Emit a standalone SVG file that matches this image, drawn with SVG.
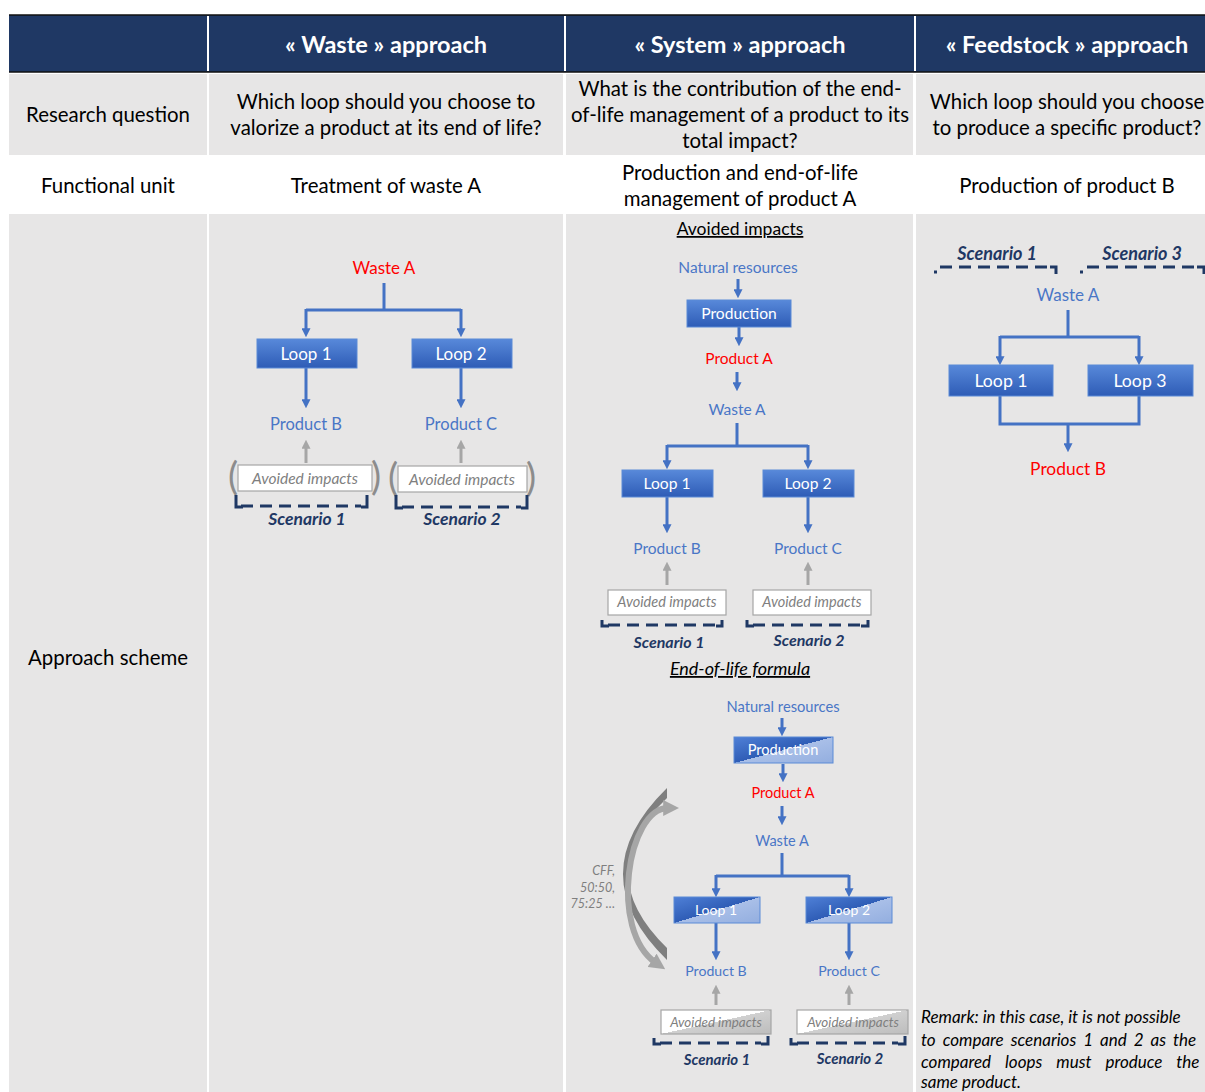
<svg xmlns="http://www.w3.org/2000/svg" width="1205" height="1092" viewBox="0 0 1205 1092">
<style>
text{font-family:Lato,"Liberation Sans",sans-serif}
.hd{fill:#fff;font-weight:bold;font-size:23.5px;text-anchor:middle}
.cell{fill:#000;font-size:20.4px;text-anchor:middle}
.blue{fill:#4A76C6;font-size:16.5px;text-anchor:middle}
.red{fill:#FF0000;font-size:17px;text-anchor:middle}
.boxt{fill:#fff;font-size:17px;text-anchor:middle}
.av{fill:#7F7F7F;font-style:italic;font-size:15.5px;text-anchor:middle}
.av2{fill:#7F7F7F;font-style:italic;font-size:14.5px;text-anchor:middle}
.sc{fill:#1F3864;font-style:italic;font-weight:bold;font-size:17.5px;text-anchor:middle}
.ttl{fill:#000;font-size:17.5px;text-anchor:middle;text-decoration:underline}
.par{fill:#8C8C8C;font-size:38px;text-anchor:middle}
.rem{fill:#000;font-style:italic;font-size:17px}
.cff{fill:#7F7F7F;font-style:italic;font-size:12.5px;text-anchor:end}
.con{stroke:#4472C4;stroke-width:3;fill:none}
.conA{stroke:#4472C4;stroke-width:3;fill:none;marker-end:url(#ab)}
.gA{stroke:#A6A6A6;stroke-width:3;fill:none;marker-end:url(#ag)}
.dash{stroke:#1F3864;stroke-width:3;fill:none;stroke-dasharray:12 7}
.tick{stroke:#1F3864;stroke-width:3;fill:none}
.bb{fill:url(#gb);stroke:#5B8AD6;stroke-width:1}
.bs{fill:url(#gs);stroke:#5B8AD6;stroke-width:1}
.wb{fill:#fff;stroke:#A6A6A6;stroke-width:1.2}
.ws{fill:url(#gw);stroke:#A6A6A6;stroke-width:1.2}
</style>
<defs>
<linearGradient id="gb" x1="0" y1="0" x2="0" y2="1"><stop offset="0" stop-color="#5889DA"/><stop offset="1" stop-color="#2E5CB6"/></linearGradient>
<linearGradient id="gs" x1="0" y1="0" x2="1" y2="1"><stop offset="0" stop-color="#4F80D7"/><stop offset="0.5" stop-color="#2F5DB6"/><stop offset="0.5" stop-color="#A9BFE8"/><stop offset="1" stop-color="#93AEDF"/></linearGradient>
<linearGradient id="gw" x1="0" y1="0" x2="1" y2="1"><stop offset="0" stop-color="#FFFFFF"/><stop offset="0.5" stop-color="#FFFFFF"/><stop offset="0.5" stop-color="#D0D0D0"/><stop offset="1" stop-color="#BDBDBD"/></linearGradient>
<marker id="ab" viewBox="0 0 10 10" refX="3" refY="5" markerWidth="9" markerHeight="9" markerUnits="userSpaceOnUse" orient="auto"><path d="M0,0 L10,5 L0,10 Z" fill="#4472C4"/></marker>
<marker id="ag" viewBox="0 0 10 10" refX="3" refY="5" markerWidth="9" markerHeight="9" markerUnits="userSpaceOnUse" orient="auto"><path d="M0,0 L10,5 L0,10 Z" fill="#A6A6A6"/></marker>
<marker id="ac" viewBox="0 0 10 10" refX="3" refY="5" markerWidth="16" markerHeight="16" markerUnits="userSpaceOnUse" orient="auto-start-reverse"><path d="M0,0 L10,5 L0,10 Z" fill="#A6A6A6"/></marker>
</defs>

<rect width="1205" height="1092" fill="#fff"/>

<g id="table">
<rect x="9" y="15" width="1196" height="57" fill="#1F3864"/>
<line x1="9" y1="15" x2="1205" y2="15" stroke="#111" stroke-width="1.5"/>
<line x1="9" y1="72" x2="1205" y2="72" stroke="#111" stroke-width="1.5"/>
<rect x="9" y="74" width="198" height="81" fill="#E7E6E6"/>
<rect x="209" y="74" width="354" height="81" fill="#E7E6E6"/>
<rect x="566" y="74" width="347" height="81" fill="#E7E6E6"/>
<rect x="916" y="74" width="289" height="81" fill="#E7E6E6"/>
<rect x="9" y="214" width="198" height="878" fill="#E7E6E6"/>
<rect x="209" y="214" width="354" height="878" fill="#E7E6E6"/>
<rect x="566" y="214" width="347" height="878" fill="#E7E6E6"/>
<rect x="916" y="214" width="289" height="878" fill="#E7E6E6"/>
<line x1="208" y1="16" x2="208" y2="71" stroke="#fff" stroke-width="2"/>
<line x1="565" y1="16" x2="565" y2="71" stroke="#fff" stroke-width="2"/>
<line x1="915" y1="16" x2="915" y2="71" stroke="#fff" stroke-width="2"/>
<text class="hd" x="386" y="53">« Waste » approach</text>
<text class="hd" x="740" y="53">« System » approach</text>
<text class="hd" x="1067" y="53">« Feedstock »  approach</text>
<text class="cell" x="108" y="122">Research question</text>
<text class="cell" x="386" y="109">Which loop should you choose to</text>
<text class="cell" x="386" y="135">valorize a product at its end of life?</text>
<text class="cell" x="740" y="96">What is the contribution of the end-</text>
<text class="cell" x="740" y="122">of-life management of a product to its</text>
<text class="cell" x="740" y="148">total impact?</text>
<text class="cell" x="1067" y="109">Which loop should you choose</text>
<text class="cell" x="1067" y="135">to produce a specific product?</text>
<text class="cell" x="108" y="193">Functional unit</text>
<text class="cell" x="386" y="193">Treatment of waste A</text>
<text class="cell" x="740" y="180">Production and end-of-life</text>
<text class="cell" x="740" y="206">management of product A</text>
<text class="cell" x="1067" y="193">Production of product B</text>
<text class="cell" x="108" y="665">Approach scheme</text>
</g>

<g id="connectors">
<path class="con" d="M384 283 V310 M306 310 H461"/>
<path class="conA" d="M306 309 V331"/>
<path class="conA" d="M461 309 V331"/>
<path class="conA" d="M306 368 V402"/>
<path class="conA" d="M461 368 V402"/>
<path class="gA" d="M306 463 V446"/>
<path class="gA" d="M461 463 V446"/>
<path class="conA" d="M738 279 V292"/>
<path class="conA" d="M739 327 V340"/>
<path class="conA" d="M737 372 V385"/>
<path class="con" d="M737 423 V446 M667 446 H808"/>
<path class="conA" d="M667 445 V463"/>
<path class="conA" d="M808 445 V463"/>
<path class="conA" d="M667 497 V527"/>
<path class="conA" d="M808 497 V527"/>
<path class="gA" d="M667 585 V568"/>
<path class="gA" d="M808 585 V568"/>
<path class="conA" d="M782 718 V730"/>
<path class="conA" d="M783 764 V776"/>
<path class="conA" d="M782 806 V819"/>
<path class="con" d="M782 853 V876 M716 876 H849"/>
<path class="conA" d="M716 875 V891"/>
<path class="conA" d="M849 875 V891"/>
<path class="conA" d="M716 923 V954"/>
<path class="conA" d="M849 923 V954"/>
<path class="gA" d="M716 1005 V991"/>
<path class="gA" d="M849 1005 V991"/>
<path d="M667 788 Q579 874 667 960 L667 948 Q589 872 667 798 Z" fill="#7F7F7F"/>
<path d="M668 808 C 628 808, 608 930, 656 963" stroke="#A6A6A6" stroke-width="6" fill="none" marker-start="url(#ac)" marker-end="url(#ac)"/>
<path class="con" d="M1068 310 V337 M1000 337 H1139"/>
<path class="conA" d="M1000 336 V359"/>
<path class="conA" d="M1139 336 V359"/>
<path class="con" d="M1000 396 V424 H1139 V396"/>
<path class="conA" d="M1068 423 V446"/>
</g>

<g id="waste-scheme">
<text class="red" x="384" y="274">Waste A</text>
<g id="w-loop1"><rect class="bb" x="257" y="339" width="100" height="29"/><text class="boxt" x="306" y="360">Loop 1</text></g>
<g id="w-loop2"><rect class="bb" x="412" y="339" width="100" height="29"/><text class="boxt" x="461" y="360">Loop 2</text></g>
<text class="blue" x="306" y="430">Product B</text>
<text class="blue" x="461" y="430">Product C</text>
<g id="w-av1"><text class="par" x="233" y="490">(</text><text class="par" x="376" y="490">)</text><rect class="wb" x="238" y="465" width="134" height="26"/><text class="av" x="305" y="484">Avoided impacts</text></g>
<g id="w-av2"><text class="par" x="393" y="491">(</text><text class="par" x="531" y="491">)</text><rect class="wb" x="398" y="466" width="129" height="26"/><text class="av" x="462" y="485">Avoided impacts</text></g>
<g id="w-sc1"><path class="dash" d="M241 506 H361"/><path class="tick" d="M236 495 V507 H243 M361 507 H367 V495"/><text class="sc" x="307" y="525">Scenario 1</text></g>
<g id="w-sc2"><path class="dash" d="M402 507 H521"/><path class="tick" d="M396 495 V508 H403 M521 508 H527 V495"/><text class="sc" x="462" y="525">Scenario 2</text></g>
</g>

<g id="system-scheme">
<text class="ttl" x="740" y="235">Avoided impacts</text>
<text class="blue" x="738" y="273" style="font-size:15.5px">Natural resources</text>
<g id="s-prod"><rect class="bb" x="687" y="300" width="104" height="27"/><text class="boxt" x="739" y="319" style="font-size:15.6px">Production</text></g>
<text class="red" x="739" y="364" style="font-size:15.5px">Product A</text>
<text class="blue" x="737" y="415" style="font-size:15.5px">Waste A</text>
<g id="s-loop1"><rect class="bb" x="622" y="470" width="91" height="27"/><text class="boxt" x="667" y="489" style="font-size:15.6px">Loop 1</text></g>
<g id="s-loop2"><rect class="bb" x="763" y="470" width="91" height="27"/><text class="boxt" x="808" y="489" style="font-size:15.6px">Loop 2</text></g>
<text class="blue" x="667" y="554" style="font-size:15.5px">Product B</text>
<text class="blue" x="808" y="554" style="font-size:15.5px">Product C</text>
<g id="s-av1"><rect class="wb" x="608" y="590" width="118" height="25"/><text class="av2" x="667" y="607">Avoided impacts</text></g>
<g id="s-av2"><rect class="wb" x="753" y="590" width="118" height="25"/><text class="av2" x="812" y="607">Avoided impacts</text></g>
<g id="s-sc1"><path class="dash" d="M608 625 H716"/><path class="tick" d="M602 620 V626 H609 M716 626 H722 V620"/><text class="sc" x="669" y="648" style="font-size:16px">Scenario 1</text></g>
<g id="s-sc2"><path class="dash" d="M753 625 H861"/><path class="tick" d="M747 620 V626 H754 M861 626 H868 V620"/><text class="sc" x="809" y="646" style="font-size:16px">Scenario 2</text></g>
<text class="ttl" x="740" y="675" style="font-style:italic;font-size:18px">End-of-life  formula</text>

<text class="blue" x="783" y="712" style="font-size:14.7px">Natural resources</text>
<g id="e-prod"><rect class="bs" x="734" y="737" width="99" height="26"/><text class="boxt" x="783" y="755" style="font-size:14.6px">Production</text></g>
<text class="red" x="783" y="798" style="font-size:14.5px">Product A</text>
<text class="blue" x="782" y="846" style="font-size:14.5px">Waste A</text>
<g id="e-loop1"><rect class="bs" x="674" y="897" width="86" height="26"/><text class="boxt" x="716" y="915" style="font-size:14px">Loop 1</text></g>
<g id="e-loop2"><rect class="bs" x="806" y="897" width="86" height="26"/><text class="boxt" x="849" y="915" style="font-size:14px">Loop 2</text></g>
<text class="blue" x="716" y="976" style="font-size:14.1px">Product B</text>
<text class="blue" x="849" y="976" style="font-size:14.1px">Product C</text>
<g id="e-av1"><rect class="ws" x="661" y="1010" width="110" height="24"/><text class="av2" x="716" y="1027" style="font-size:13.4px">Avoided impacts</text></g>
<g id="e-av2"><rect class="ws" x="797" y="1010" width="111" height="24"/><text class="av2" x="853" y="1027" style="font-size:13.4px">Avoided impacts</text></g>
<g id="e-sc1"><path class="dash" d="M660 1043 H761"/><path class="tick" d="M654 1038 V1044 H661 M761 1044 H768 V1036"/><text class="sc" x="717" y="1065" style="font-size:15px">Scenario 1</text></g>
<g id="e-sc2"><path class="dash" d="M797 1043 H898"/><path class="tick" d="M791 1038 V1044 H798 M898 1044 H905 V1036"/><text class="sc" x="850" y="1064" style="font-size:15px">Scenario 2</text></g>
<text class="cff" x="615" y="875">CFF,</text>
<text class="cff" x="615" y="892">50:50,</text>
<text class="cff" x="615" y="908">75:25 …</text>
</g>

<g id="feedstock-scheme">
<text class="sc" x="997" y="260" style="font-size:18px">Scenario 1</text>
<text class="sc" x="1142" y="260" style="font-size:18px">Scenario 3</text>
<path class="dash" d="M940 267 H1050"/>
<path class="tick" d="M1050 267 H1056 V274 M934 272 H937"/>
<path class="dash" d="M1087 267 H1197"/>
<path class="tick" d="M1197 267 H1204 V274 M1080 272 H1083"/>
<text class="blue" x="1068" y="301" style="font-size:17px">Waste A</text>
<g id="f-loop1"><rect class="bb" x="949" y="365" width="104" height="31"/><text class="boxt" x="1001" y="387" style="font-size:17.7px">Loop 1</text></g>
<g id="f-loop3"><rect class="bb" x="1088" y="365" width="105" height="31"/><text class="boxt" x="1140" y="387" style="font-size:17.7px">Loop 3</text></g>
<text class="red" x="1068" y="475" style="font-size:17.4px">Product B</text>
<text class="rem" x="921" y="1023">Remark: in this case, it is not possible</text>
<text class="rem" x="921" y="1046" word-spacing="3">to compare scenarios 1 and 2 as the</text>
<text class="rem" x="921" y="1068" word-spacing="10">compared loops must produce the</text>
<text class="rem" x="921" y="1088">same product.</text>
</g>
</svg>
